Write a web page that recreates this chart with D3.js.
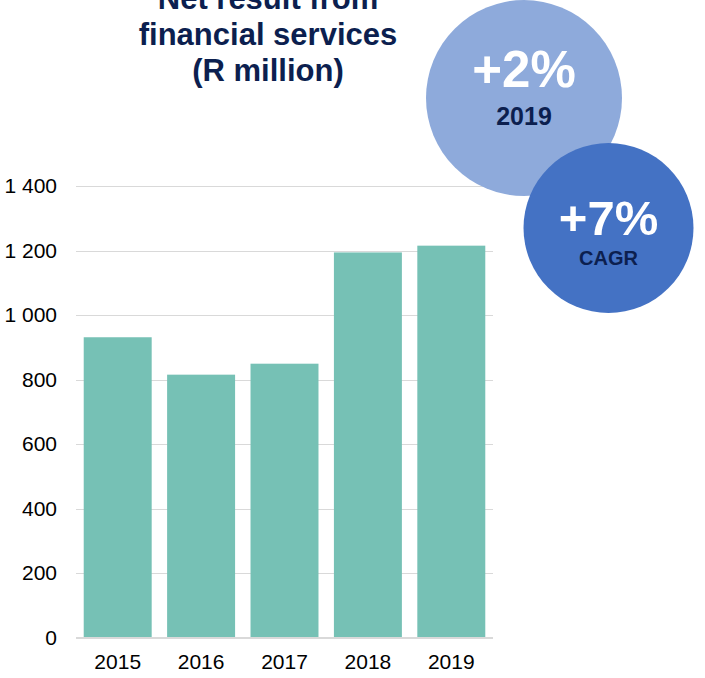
<!DOCTYPE html>
<html>
<head>
<meta charset="utf-8">
<script src="https://cdn.jsdelivr.net/npm/d3@7"></script>
<style>
  body { margin: 0; background: #fff; }
  svg { display: block; font-family: "Liberation Sans", Arial, sans-serif; }
</style>
</head>
<body>
<div id="chart"></div>
<script>
// chart data
var years = ["2015", "2016", "2017", "2018", "2019"];
var values = [931, 815, 849, 1194, 1215];
var yTicks = [0, 200, 400, 600, 800, 1000, 1200, 1400];
var titleLines = ["Net result from", "financial services", "(R million)"];
var bubbles = [
    { big: "+2%", small: "2019" },
    { big: "+7%", small: "CAGR" }
];

var WIDTH = 705, HEIGHT = 678;
var margin = { left: 76, right: 212, top: 186, bottom: 40 };
var width = WIDTH - margin.left - margin.right;
var height = HEIGHT - margin.top - margin.bottom - 0.5;

var svg = d3.select("#chart").append("svg")
    .attr("width", WIDTH)
    .attr("height", HEIGHT);

var g = svg.append("g")
    .attr("transform", "translate(" + margin.left + "," + margin.top + ")");

var xScale = d3.scaleBand()
    .domain(years)
    .range([0, width])
    .paddingInner(0.185)
    .paddingOuter(0.0925);

var yScale = d3.scaleLinear()
    .domain([0, 1400])
    .range([height, 0]);

var fmt = function(d) { return d3.format(",")(d).replace(/,/g, " "); };

// gridlines
g.selectAll(".grid")
    .data(yTicks)
    .enter().append("line")
    .attr("class", "grid")
    .attr("x1", 0)
    .attr("x2", width)
    .attr("y1", function(d) { return Math.round(yScale(d)) + 0.5; })
    .attr("y2", function(d) { return Math.round(yScale(d)) + 0.5; })
    .attr("stroke", "#d9d9d9")
    .attr("stroke-width", 1);

// y axis
var yAxis = d3.axisLeft(yScale)
    .tickValues(yTicks)
    .tickFormat(fmt)
    .tickSize(0)
    .tickPadding(19);
g.append("g")
    .attr("class", "axis y-axis")
    .call(yAxis)
    .call(function(s) { s.select(".domain").remove(); })
    .selectAll("text")
    .attr("font-size", "21px")
    .attr("font-family", "Liberation Sans, Arial, sans-serif")
    .attr("fill", "#000");

// bars
g.selectAll(".bar")
    .data(values)
    .enter().append("rect")
    .attr("class", "bar")
    .attr("x", function(d, i) { return xScale(years[i]); })
    .attr("width", xScale.bandwidth())
    .attr("y", function(d) { return yScale(d); })
    .attr("height", function(d) { return height - yScale(d); })
    .attr("fill", "#76c1b5");

// baseline
g.append("line")
    .attr("x1", 0)
    .attr("x2", width)
    .attr("y1", height + 0.5)
    .attr("y2", height + 0.5)
    .attr("stroke", "#d9d9d9")
    .attr("stroke-width", 2);

// x axis
var xAxis = d3.axisBottom(xScale).tickSize(0).tickPadding(17);
g.append("g")
    .attr("class", "axis x-axis")
    .attr("transform", "translate(0," + height + ")")
    .call(xAxis)
    .call(function(s) { s.select(".domain").remove(); })
    .selectAll("text")
    .attr("font-size", "21px")
    .attr("font-family", "Liberation Sans, Arial, sans-serif")
    .attr("fill", "#000");

// title (top line is cut by the top edge, as in the original)
svg.append("text")
    .attr("x", 268)
    .attr("y", 9)
    .attr("text-anchor", "middle")
    .attr("font-size", "31px")
    .attr("font-weight", "bold")
    .attr("fill", "#0c1f4f")
    .selectAll("tspan")
    .data(titleLines)
    .enter().append("tspan")
    .attr("x", 268)
    .attr("dy", function(d, i) { return i === 0 ? 0 : 36; })
    .text(function(d) { return d; });

// bubbles
var bubblePos = [
    { cx: 524, cy: 98, r: 98, fill: "#8eaadb", big: 51, small: 25, y1: -11, y2: 27 },
    { cx: 608.5, cy: 228, r: 85, fill: "#4472c4", big: 49, small: 20, y1: 7, y2: 37 }
];
var bub = svg.selectAll(".bubble")
    .data(bubbles)
    .enter().append("g")
    .attr("class", "bubble")
    .attr("transform", function(d, i) {
        return "translate(" + bubblePos[i].cx + "," + bubblePos[i].cy + ")";
    });

bub.append("circle")
    .attr("r", function(d, i) { return bubblePos[i].r; })
    .attr("fill", function(d, i) { return bubblePos[i].fill; });

bub.append("text")
    .attr("text-anchor", "middle")
    .attr("y", function(d, i) { return bubblePos[i].y1; })
    .attr("font-size", function(d, i) { return bubblePos[i].big + "px"; })
    .attr("font-weight", "bold")
    .attr("fill", "#fff")
    .text(function(d) { return d.big; });

bub.append("text")
    .attr("text-anchor", "middle")
    .attr("y", function(d, i) { return bubblePos[i].y2; })
    .attr("font-size", function(d, i) { return bubblePos[i].small + "px"; })
    .attr("font-weight", "bold")
    .attr("fill", "#0c1f4f")
    .text(function(d) { return d.small; });
</script>
</body>
</html>
